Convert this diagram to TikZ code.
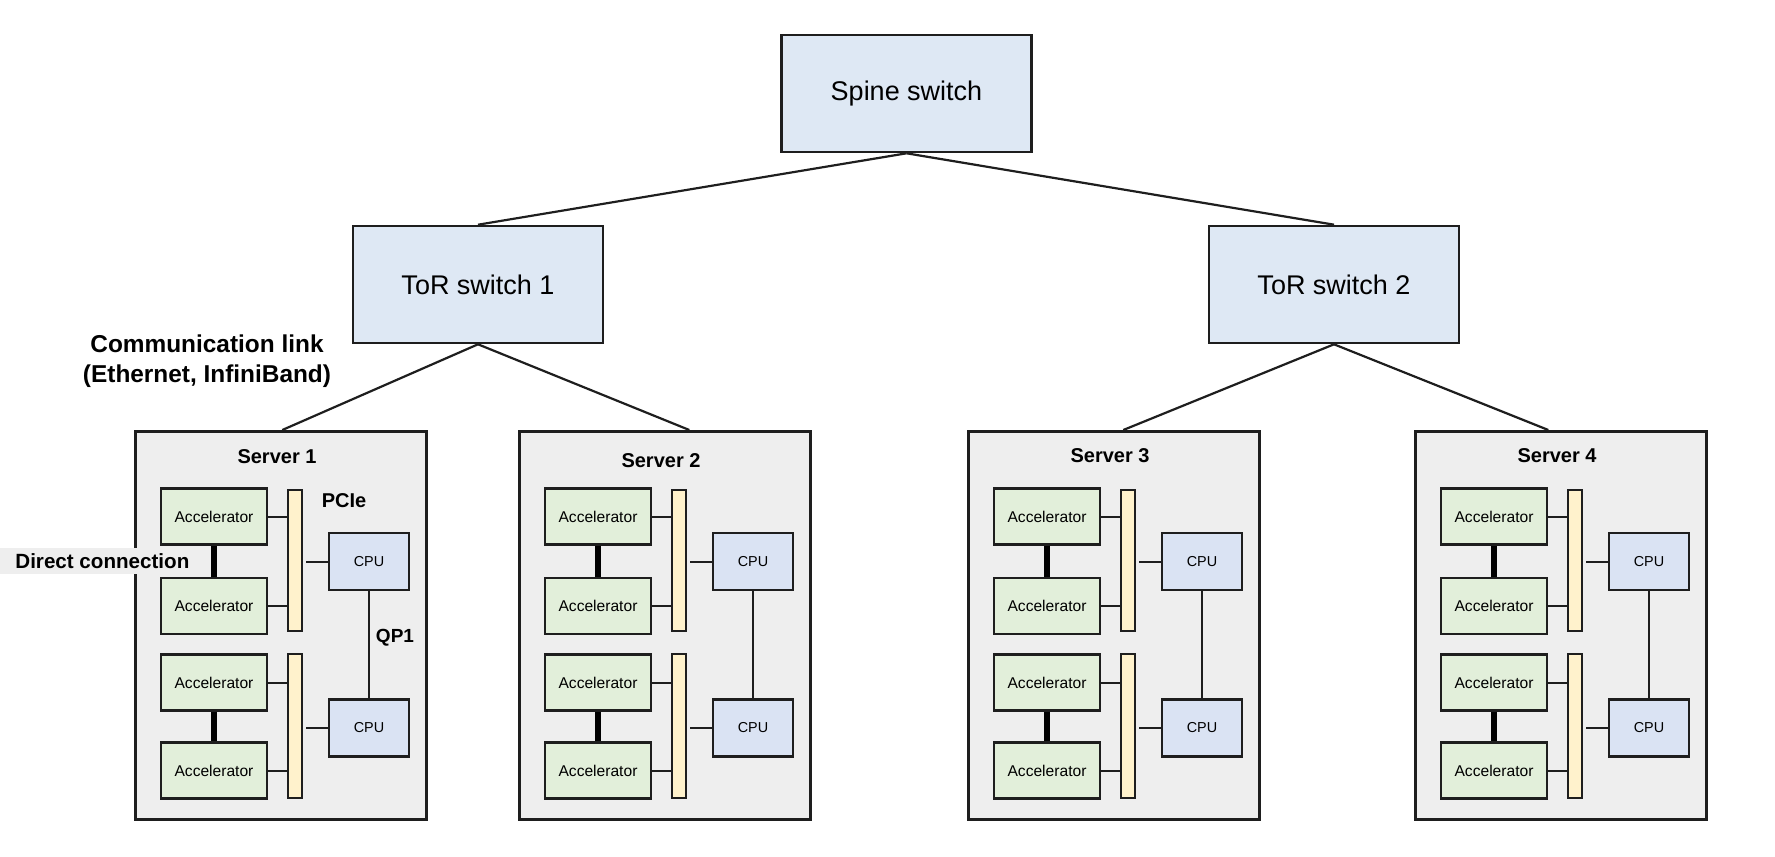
\documentclass[tikz,border=0pt]{standalone}
\usepackage{fontspec}
\setmainfont{Liberation Sans}
\definecolor{swfill}{HTML}{DEE8F4}
\definecolor{accfill}{HTML}{E2EFDA}
\definecolor{barfill}{HTML}{FFF2CC}
\definecolor{cpufill}{HTML}{DAE3F3}
\definecolor{srvfill}{HTML}{EEEEEE}
\definecolor{edge}{HTML}{1E1E1E}
\tikzset{
  switchbox/.style={draw=edge, line width=1.3pt, fill=swfill, minimum width=125pt, minimum height=58.5pt, inner sep=0pt, font=\fontsize{13.5}{16}\selectfont},
  server/.style={draw=edge, line width=1.3pt, fill=srvfill, minimum width=145.5pt, minimum height=194pt, inner sep=0pt},
  srvtitle/.style={font=\bfseries\fontsize{10}{12}\selectfont, inner sep=0pt},
  acc/.style={draw=edge, line width=1.2pt, fill=accfill, minimum width=53pt, minimum height=28pt, inner sep=0pt, font=\fontsize{7.8}{9}\selectfont},
  pbar/.style={draw=edge, line width=1pt, fill=barfill, minimum width=7pt, inner sep=0pt},
  cpu/.style={draw=edge, line width=1.2pt, fill=cpufill, minimum width=40pt, minimum height=28.5pt, inner sep=0pt, font=\fontsize{7.2}{9}\selectfont},
  link/.style={draw=edge, line width=1.1pt},
  wire/.style={draw=edge, line width=1pt},
  direct/.style={draw=black, line width=3pt},
  boldlabel/.style={font=\bfseries\fontsize{10}{12}\selectfont, inner sep=0pt}
}
\begin{document}
\begin{tikzpicture}[x=0.5pt,y=-0.5pt]
\useasboundingbox (0,0) rectangle (1775,856);

\node[switchbox] (spine) at (906.5,93.5) {Spine switch};
\node[switchbox] (tor1) at (478,284.5) {ToR switch 1};
\node[switchbox] (tor2) at (1334,284.5) {ToR switch 2};

\foreach \i/\L/\ty in {1/134/457, 2/518/461, 3/967/456, 4/1414/456}{
  \node[server, anchor=north west] (s\i) at (\L,430) {};
  \node[srvtitle] (t\i) at (\L+143,\ty) {Server \i};
  \node[acc] (a\i1) at (\L+80,516.5) {Accelerator};
  \node[acc] (a\i2) at (\L+80,606) {Accelerator};
  \node[acc] (a\i3) at (\L+80,682.5) {Accelerator};
  \node[acc] (a\i4) at (\L+80,770.5) {Accelerator};
  \node[pbar, minimum height=70.5pt] (b\i1) at (\L+161,560.5) {};
  \node[pbar, minimum height=72pt] (b\i2) at (\L+161,726) {};
  \node[cpu] (c\i1) at (\L+235,561.5) {CPU};
  \node[cpu] (c\i2) at (\L+235,728) {CPU};
  \draw[direct] (a\i1) -- (a\i2);
  \draw[direct] (a\i3) -- (a\i4);
  \draw[wire] (a\i1.east) -- (a\i1.east -| b\i1.west);
  \draw[wire] (a\i2.east) -- (a\i2.east -| b\i1.west);
  \draw[wire] (a\i3.east) -- (a\i3.east -| b\i2.west);
  \draw[wire] (a\i4.east) -- (a\i4.east -| b\i2.west);
  \draw[wire, shorten >=1.5pt] (c\i1.west) -- (c\i1.west -| b\i1.east);
  \draw[wire, shorten >=1.5pt] (c\i2.west) -- (c\i2.west -| b\i2.east);
  \draw[wire] (c\i1) -- (c\i2);
}

\draw[link] (spine.south) -- (tor1.north);
\draw[link] (spine.south) -- (tor2.north);
\draw[link] (tor1.south) -- ([xshift=0.75pt]s1.north);
\draw[link] (tor1.south) -- ([xshift=12.25pt]s2.north);
\draw[link] (tor2.south) -- ([xshift=4.75pt]s3.north);
\draw[link] (tor2.south) -- ([xshift=-6.25pt]s4.north);

\node[font=\bfseries\fontsize{12.2}{14.7}\selectfont, align=center, inner sep=0pt] (comm) at (207,361) {Communication link\\(Ethernet, InfiniBand)};
\node[boldlabel] (pcie) at (344,501) {PCIe};
\node[font=\bfseries\fontsize{9.5}{11}\selectfont, inner sep=0pt] (qp) at (395,638) {QP1};
\node[fill=srvfill, anchor=west, inner sep=0pt, minimum height=13pt, font=\bfseries\fontsize{10.3}{12}\selectfont] (dc) at (0,561) {\hspace*{7.5pt}Direct connection};
\end{tikzpicture}
\end{document}
